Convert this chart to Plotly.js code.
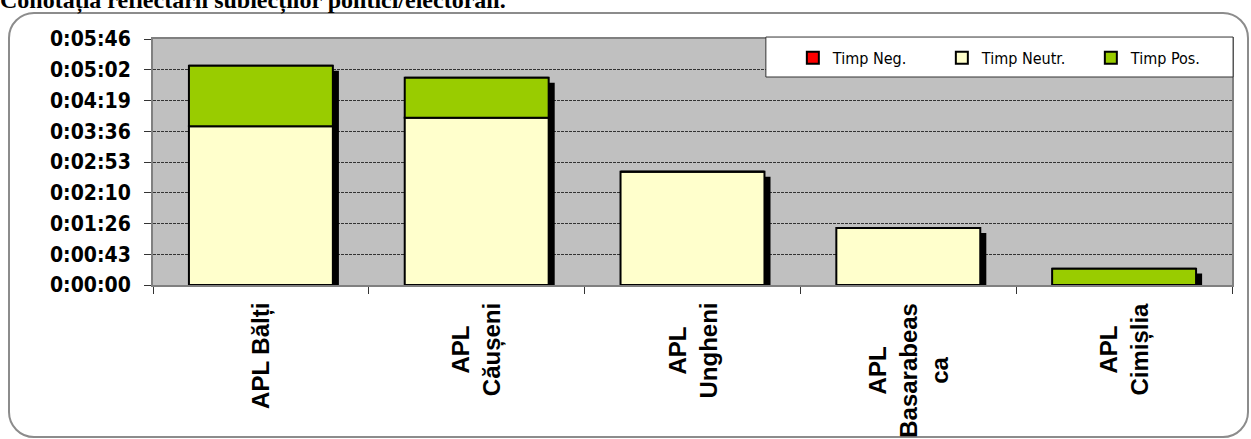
<!DOCTYPE html>
<html><head><meta charset="utf-8">
<script src="https://cdn.plot.ly/plotly-3.0.1.min.js"></script>
<style>
html,body{margin:0;padding:0;background:#fff;}
#frame{position:absolute;left:8px;top:12px;width:1237px;height:422px;border:2px solid #8c8c8c;border-radius:26px;}
#chart{position:absolute;left:0;top:0;width:1251px;height:439px;}
</style></head><body>
<div id="frame"></div><div id="chart"></div>
<script>
// Data (seconds)
const categories = ['APL Bălți', 'APL<br>Căușeni', 'APL<br>Ungheni', 'APL<br>Basarabeas<br>ca', 'APL<br>Cimișlia'];
const timpNeg = [0, 0, 0, 0, 0];
const timpNeutr = [223, 235, 159, 80, 0];
const timpPos = [85, 56, 0, 0, 23];
const yTickSeconds = [0, 43.2, 86.4, 129.6, 172.8, 216, 259.2, 302.4, 345.6];
const yTickLabels = ['0:00:00', '0:00:43', '0:01:26', '0:02:10', '0:02:53', '0:03:36', '0:04:19', '0:05:02', '0:05:46'];
const titleText = 'Conotația reflectării subiecților politici/electorali.';

const totals = categories.map((c, i) => timpNeutr[i] + timpPos[i] + timpNeg[i]);
const posBase = timpNeutr.slice();
const negBase = categories.map((c, i) => timpNeutr[i] + timpPos[i]);

const BW = 0.667;
const shadowDrop = 7;
const shadowShift = 0.028;
const outline = {color: '#000', width: 2};

const traces = [
  {type: 'bar', x: categories, y: totals.map(v => Math.max(v - shadowDrop, 0)), base: 0,
   width: BW, offset: -BW / 2 + shadowShift, marker: {color: '#000', line: {width: 0}},
   showlegend: false, hoverinfo: 'skip'},
  {type: 'bar', name: 'Timp Neg.', x: categories, y: timpNeg, base: negBase, width: BW,
   marker: {color: '#ff0000', line: outline}},
  {type: 'bar', name: 'Timp Neutr.', x: categories, y: timpNeutr, base: 0, width: BW,
   marker: {color: '#ffffcc', line: outline}},
  {type: 'bar', name: 'Timp Pos.', x: categories, y: timpPos, base: posBase, width: BW,
   marker: {color: '#99cc00', line: outline}}
];

// Category labels: rotated, lines centred, block top just under the axis
const labelFont = {family: 'Liberation Sans, Arial, sans-serif', size: 24, weight: 700, color: '#000'};
const catAnnotations = categories.map(c => ({
  x: c, xref: 'x', y: 0, yref: 'paper', xanchor: 'center', yanchor: 'top', yshift: -16,
  text: c, textangle: -90, align: 'center', showarrow: false, font: labelFont
}));

const layout = {
  width: 1251, height: 439,
  margin: {l: 153, r: 19, t: 39, b: 154, pad: 0, autoexpand: false},
  paper_bgcolor: 'rgba(0,0,0,0)',
  plot_bgcolor: '#c0c0c0',
  barmode: 'overlay',
  showlegend: true,
  title: {text: titleText, x: 0, xref: 'container', xanchor: 'left',
          y: 1 - 8 / 439, yref: 'container', yanchor: 'bottom',
          font: {family: 'Liberation Serif, Times New Roman, serif', size: 24, weight: 700, color: '#000'}},
  xaxis: {type: 'category', tickson: 'boundaries', ticks: 'outside', ticklen: 7, tickcolor: '#333',
          showticklabels: false, showgrid: false, showline: true, linecolor: '#808080', linewidth: 2, mirror: true},
  yaxis: {range: [0, 345.6], tickmode: 'array', tickvals: yTickSeconds, ticktext: yTickLabels,
          ticks: 'outside', ticklen: 7, tickcolor: '#333', showline: true, linecolor: '#808080', linewidth: 2,
          mirror: true, showgrid: true, gridcolor: '#333', gridwidth: 1, griddash: '3px,1px', zeroline: false,
          ticklabelstandoff: 9,
          tickfont: {family: 'DejaVu Sans Condensed, DejaVu Sans, sans-serif', size: 21, weight: 700, color: '#000'}},
  legend: {orientation: 'h', x: 0.593, xanchor: 'left', y: 0.923, yanchor: 'middle',
           bgcolor: 'rgba(0,0,0,0)', borderwidth: 0, entrywidth: 104, entrywidthmode: 'pixels',
           traceorder: 'normal',
           font: {family: 'DejaVu Sans Condensed, DejaVu Sans, sans-serif', size: 16, color: '#000'}},
  annotations: catAnnotations,
  shapes: [
    {type: 'rect', xref: 'paper', yref: 'paper', x0: 0.568, x1: 1.001, y0: 0.8455, y1: 1.008,
     fillcolor: '#fff', line: {color: '#333', width: 1}, layer: 'above'}
  ]
};

Plotly.newPlot('chart', traces, layout, {displayModeBar: false, staticPlot: true});
</script>
</body></html>
